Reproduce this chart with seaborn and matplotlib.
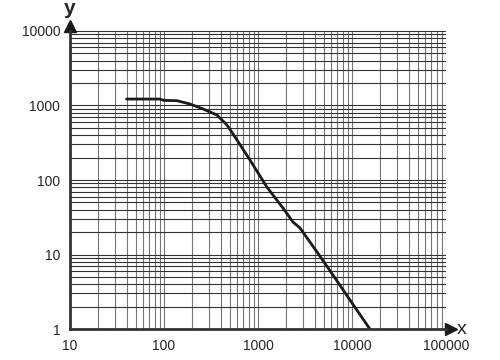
import numpy as np
import pandas as pd
import seaborn as sns
import matplotlib.pyplot as plt
from matplotlib.ticker import LogLocator, FixedLocator, NullFormatter

# curve
x_vals = [40, 90, 100, 137, 189, 260, 366, 468, 598, 822, 1247, 1845, 2356, 2797, 4246, 6280, 9520, 15500]
y_vals = [1220, 1220, 1170, 1160, 1047, 898, 745, 547, 344, 185, 80, 42, 27.3, 22.7, 10.8, 5.3, 2.45, 1.0]

x_ticks = [10, 100, 1000, 10000, 100000]
y_ticks = [1, 10, 100, 1000, 10000]

df = pd.DataFrame({"x": x_vals, "y": y_vals})

sns.set_style("white")
plt.rcParams["font.family"] = ["Liberation Sans", "DejaVu Sans"]

fig = plt.figure(figsize=(5, 3.6), dpi=100)
ax = fig.add_axes([0.14, 0.086, 0.752, 0.828])

sns.lineplot(data=df, x="x", y="y", ax=ax, color="#1a1a1a", linewidth=2)

ax.set_xscale("log")
ax.set_yscale("log")
ax.set_xlim(10, 100000)
ax.set_ylim(1, 10000)

ax.xaxis.set_major_locator(FixedLocator(x_ticks))
ax.yaxis.set_major_locator(FixedLocator(y_ticks))
ax.xaxis.set_minor_locator(LogLocator(base=10, subs=np.arange(2, 10)))
ax.yaxis.set_minor_locator(LogLocator(base=10, subs=np.arange(2, 10)))
ax.xaxis.set_minor_formatter(NullFormatter())
ax.yaxis.set_minor_formatter(NullFormatter())
ax.set_xticklabels([str(t) for t in x_ticks], fontsize=10)
ax.set_yticklabels([str(t) for t in y_ticks], fontsize=10)

ax.grid(which="both", axis="y", color="#333333", linewidth=0.8)
ax.grid(which="both", axis="x", color="#777777", linewidth=0.8)
ax.set_axisbelow(True)

ax.tick_params(which="major", direction="out", length=4, width=1, color="#333333", pad=3)
ax.tick_params(which="minor", length=0)

for s in ["top", "right"]:
    ax.spines[s].set_visible(False)
for s in ["left", "bottom"]:
    ax.spines[s].set_color("#333333")
    ax.spines[s].set_linewidth(2)
    ax.spines[s].set_zorder(5)

# arrows on the axes
ax.plot(1.012, 0, marker=">", markersize=8, color="#1a1a1a", transform=ax.transAxes, clip_on=False)
ax.plot(0, 1.018, marker="^", markersize=8, color="#1a1a1a", transform=ax.transAxes, clip_on=False)

ax.set_xlabel("")
ax.set_ylabel("")
ax.text(0, 1.045, "y", transform=ax.transAxes, fontsize=15, fontweight="bold", ha="center", va="bottom")
ax.text(1.03, 0, "x", transform=ax.transAxes, fontsize=14, ha="left", va="center")

fig.savefig("out.png", dpi=100)
